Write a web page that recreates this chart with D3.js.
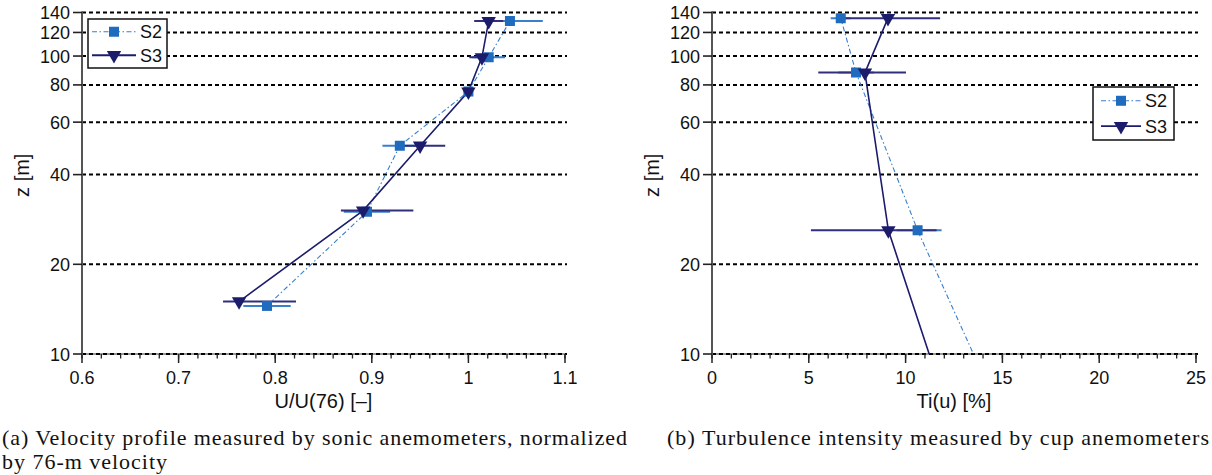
<!DOCTYPE html>
<html><head><meta charset="utf-8">
<script src="https://cdn.jsdelivr.net/npm/d3@7"></script>
<style>
html,body{margin:0;padding:0;background:#fff;}
svg{display:block;}
</style></head>
<body>
<svg id="chart" width="1212" height="475"></svg>
<script>
// ---------------- data ----------------
const zTicks = [10, 20, 40, 60, 80, 100, 120, 140];
const leftXTicks = [0.6, 0.7, 0.8, 0.9, 1.0, 1.1];
const leftXLabels = ["0.6", "0.7", "0.8", "0.9", "1", "1.1"];
const rightXTicks = [0, 5, 10, 15, 20, 25];
const rightXLabels = ["0", "5", "10", "15", "20", "25"];
const seriesNames = ["S2", "S3"];

// (a) velocity profile
const aS2Z  = [14.5, 30, 50, 76, 99, 131];
const aS2U  = [0.7915, 0.895, 0.929, 1.0, 1.021, 1.043];
const aS2Lo = [0.767, 0.871, 0.911, 0.996, 1.004, 1.009];
const aS2Hi = [0.816, 0.919, 0.947, 1.004, 1.038, 1.077];
const aS3Z  = [15, 30.3, 50, 76, 99, 131];
const aS3U  = [0.7626, 0.891, 0.950, 1.0, 1.014, 1.021];
const aS3Lo = [0.746, 0.868, 0.924, 0.996, 1.001, 1.006];
const aS3Hi = [0.8215, 0.943, 0.976, 1.004, 1.026, 1.036];

// (b) turbulence intensity
const bS2Z  = [8, 26, 88, 134];
const bS2T  = [14.18, 10.62, 7.44, 6.65];
const bS2Lo = [14.18, 9.54, 6.53, 6.13];
const bS2Hi = [14.18, 11.86, 8.36, 7.16];
const bS3Z  = [8, 26, 88, 134];
const bS3T  = [11.71, 9.11, 7.9, 9.09];
const bS3Lo = [11.71, 5.11, 5.49, 6.40];
const bS3Hi = [11.71, 11.6, 10.02, 11.78];

const captionA1 = "(a) Velocity profile measured by sonic anemometers, normalized";
const captionA2 = "by 76-m velocity";
const captionB  = "(b) Turbulence intensity measured by cup anemometers";

// ---------------- style ----------------
const C2 = "#1f6bbd", C2bar = "#3a7fcc", C3 = "#1c1c6c", C3bar = "#2f2f7e";
const SANS = "'Liberation Sans', Arial, Helvetica, sans-serif";
const SERIF = "'Liberation Serif', 'DejaVu Serif', serif";

const svg = d3.select("#chart");
const yTop = 12.5, yBot = 354;
const y = d3.scaleLog().domain([10, 140]).range([yBot, yTop]);

function pack(z, v, lo, hi){ return z.map((d,i)=>({z:d, v:v[i], lo:lo[i], hi:hi[i]})); }

function panel(opt){
  const g = svg.append("g");
  const x = d3.scaleLinear().domain(opt.domain).range(opt.range);
  const id = "clip" + opt.key;
  svg.append("clipPath").attr("id", id).append("rect")
    .attr("x", opt.range[0]).attr("y", yTop - 10)
    .attr("width", opt.range[1] - opt.range[0] + 2).attr("height", yBot - yTop + 10);

  g.append("line").attr("x1", opt.range[0]).attr("x2", opt.range[1])
    .attr("y1", yBot).attr("y2", yBot).attr("stroke", "#777").attr("stroke-width", 1.5);
  g.selectAll(".grid").data(zTicks).enter().append("line")
    .attr("x1", opt.range[0]).attr("x2", opt.range[1] + 2)
    .attr("y1", d=>y(d)).attr("y2", d=>y(d))
    .attr("stroke", "#000").attr("stroke-width", 2).attr("stroke-dasharray", "4,3");

  const minors = d3.range(opt.domain[0], opt.domain[1] + opt.minor/2, opt.minor);
  g.selectAll(".mt").data(minors).enter().append("line")
    .attr("x1", d=>x(d)).attr("x2", d=>x(d)).attr("y1", yBot).attr("y2", yBot + 4.5)
    .attr("stroke", "#222").attr("stroke-width", 1.3);
  g.selectAll(".Mt").data(opt.ticks).enter().append("line")
    .attr("x1", d=>x(d)).attr("x2", d=>x(d)).attr("y1", yBot).attr("y2", yBot + 9)
    .attr("stroke", "#222").attr("stroke-width", 1.5);
  g.selectAll(".xl").data(opt.ticks).enter().append("text")
    .attr("x", d=>x(d)).attr("y", yBot + 30).attr("text-anchor", "middle")
    .attr("font-family", SANS).attr("font-size", 18).attr("fill", "#111")
    .text((d,i)=>opt.labels[i]);
  g.append("text").attr("x", (opt.range[0] + opt.range[1]) / 2).attr("y", yBot + 54)
    .attr("text-anchor", "middle").attr("font-family", SANS).attr("font-size", 20).attr("fill", "#111")
    .text(opt.xtitle);

  g.append("line").attr("x1", opt.range[0]).attr("x2", opt.range[0])
    .attr("y1", yTop - 1).attr("y2", yBot + 1).attr("stroke", "#555").attr("stroke-width", 2);
  g.selectAll(".yt").data(zTicks).enter().append("line")
    .attr("x1", opt.range[0] - 9).attr("x2", opt.range[0]).attr("y1", d=>y(d)).attr("y2", d=>y(d))
    .attr("stroke", "#222").attr("stroke-width", 1.6);
  g.selectAll(".yl").data(zTicks).enter().append("text")
    .attr("x", opt.range[0] - 12).attr("y", d=>y(d) + 6.5).attr("text-anchor", "end")
    .attr("font-family", SANS).attr("font-size", 18).attr("fill", "#111").text(d=>d);
  g.append("text").attr("transform", `translate(${opt.range[0] - 53},${(yTop + yBot) / 2 - 8}) rotate(-90)`)
    .attr("text-anchor", "middle").attr("font-family", SANS).attr("font-size", 20).attr("fill", "#111")
    .text("z [m]");

  const d2 = pack(opt.s2z, opt.s2v, opt.s2lo, opt.s2hi);
  const d3s = pack(opt.s3z, opt.s3v, opt.s3lo, opt.s3hi);
  const dg = g.append("g").attr("clip-path", `url(#${id})`);
  const line = d3.line().x(d=>x(d.v)).y(d=>y(d.z));

  dg.selectAll(".e2").data(d2).enter().append("line")
    .attr("x1", d=>x(d.lo)).attr("x2", d=>x(d.hi)).attr("y1", d=>y(d.z)).attr("y2", d=>y(d.z))
    .attr("stroke", C2bar).attr("stroke-width", 2);
  dg.selectAll(".e3").data(d3s).enter().append("line")
    .attr("x1", d=>x(d.lo)).attr("x2", d=>x(d.hi)).attr("y1", d=>y(d.z)).attr("y2", d=>y(d.z))
    .attr("stroke", C3bar).attr("stroke-width", 2);
  dg.append("path").datum(d2).attr("d", line).attr("fill", "none")
    .attr("stroke", C2bar).attr("stroke-width", 1.1).attr("stroke-dasharray", "5,2.5,1.5,2.5");
  dg.append("path").datum(d3s).attr("d", line).attr("fill", "none")
    .attr("stroke", C3).attr("stroke-width", 1.6);
  const sq = d3.symbol().type(d3.symbolSquare).size(100);
  const tri = d3.symbol().type(d3.symbolTriangle).size(90);
  dg.selectAll(".m2").data(d2).enter().append("path")
    .attr("transform", d=>`translate(${x(d.v)},${y(d.z)})`).attr("d", sq).attr("fill", C2);
  dg.selectAll(".m3").data(d3s).enter().append("path")
    .attr("transform", d=>`translate(${x(d.v)},${y(d.z)}) rotate(180)`).attr("d", tri).attr("fill", C3);

  const L = opt.legend;
  const lg = g.append("g").attr("transform", `translate(${L.x},${L.y})`);
  lg.append("rect").attr("width", L.w).attr("height", L.h).attr("fill", "#fff")
    .attr("stroke", "#111").attr("stroke-width", 1.5);
  const rows = [L.h * 0.26, L.h * 0.74];
  seriesNames.forEach((name, i) => {
    const yy = rows[i];
    const ln = lg.append("line").attr("x1", L.lx0).attr("x2", L.lx1).attr("y1", yy).attr("y2", yy);
    if (i === 0) ln.attr("stroke", C2bar).attr("stroke-width", 1.1).attr("stroke-dasharray", "5,2.5,1.5,2.5");
    else ln.attr("stroke", C3).attr("stroke-width", 1.8);
    const mx = (L.lx0 + L.lx1) / 2;
    lg.append("path").attr("transform", `translate(${mx},${yy})` + (i === 1 ? " rotate(180)" : ""))
      .attr("d", i === 0 ? sq : tri).attr("fill", i === 0 ? C2 : C3);
    lg.append("text").attr("x", L.lx1 + 4).attr("y", yy + 6.5).attr("font-family", SANS)
      .attr("font-size", 18).attr("fill", "#111").text(name);
  });
}

panel({key:"a", domain:[0.6, 1.1], range:[82, 565], ticks:leftXTicks, labels:leftXLabels, minor:0.02,
  xtitle:"U/U(76) [–]", s2z:aS2Z, s2v:aS2U, s2lo:aS2Lo, s2hi:aS2Hi, s3z:aS3Z, s3v:aS3U, s3lo:aS3Lo, s3hi:aS3Hi,
  legend:{x:88, y:19, w:79, h:49, lx0:4, lx1:48}});
panel({key:"b", domain:[0, 25], range:[712, 1196], ticks:rightXTicks, labels:rightXLabels, minor:1,
  xtitle:"Ti(u) [%]", s2z:bS2Z, s2v:bS2T, s2lo:bS2Lo, s2hi:bS2Hi, s3z:bS3Z, s3v:bS3T, s3lo:bS3Lo, s3hi:bS3Hi,
  legend:{x:1093, y:87, w:81, h:53, lx0:8, lx1:48}});

svg.append("text").attr("x", 2).attr("y", 445).attr("font-family", SERIF).attr("font-size", 22)
  .attr("fill", "#111").attr("textLength", 625).attr("lengthAdjust", "spacing").text(captionA1);
svg.append("text").attr("x", 2).attr("y", 469).attr("font-family", SERIF).attr("font-size", 22)
  .attr("fill", "#111").attr("textLength", 165).attr("lengthAdjust", "spacing").text(captionA2);
svg.append("text").attr("x", 667).attr("y", 445).attr("font-family", SERIF).attr("font-size", 22)
  .attr("fill", "#111").attr("textLength", 542).attr("lengthAdjust", "spacing").text(captionB);
</script>
</body></html>
